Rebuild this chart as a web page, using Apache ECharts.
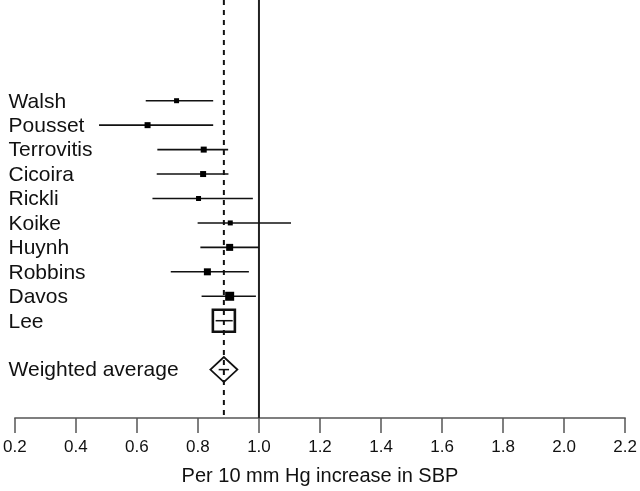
<!DOCTYPE html>
<html><head><meta charset="utf-8">
<script src="https://cdn.jsdelivr.net/npm/echarts@6/dist/echarts.min.js"></script>
<style>html,body{margin:0;padding:0;background:#fff}#c{width:640px;height:491px}</style>
</head><body><div id="c"></div>
<script>
// ---- data ----
const studies  = ['Walsh','Pousset','Terrovitis','Cicoira','Rickli','Koike','Huynh','Robbins','Davos','Lee'];
const estimate = [0.730, 0.635, 0.819, 0.817, 0.802, 0.906, 0.904, 0.831, 0.904, 0.885];
const lower    = [0.629, 0.476, 0.667, 0.665, 0.651, 0.799, 0.808, 0.711, 0.812, 0.858];
const upper    = [0.850, 0.850, 0.899, 0.900, 0.980, 1.105, 1.000, 0.967, 0.990, 0.914];
const pooledLabel = 'Weighted average';
const pooledEstimate = 0.885;
const pooledLower = 0.868;
const pooledUpper = 0.902;
const nullValue = 1.0;
const xTicks = [0.2, 0.4, 0.6, 0.8, 1.0, 1.2, 1.4, 1.6, 1.8, 2.0, 2.2];
const axisTitle = 'Per 10 mm Hg increase in SBP';

// ---- styles ----
const markerPx = [5, 6, 6, 6, 5, 5, 7, 7, 9, 22];
const openMarker = [false, false, false, false, false, false, false, false, false, true];
const FONT = '"Liberation Sans", Arial, Helvetica, sans-serif';

const rows = studies.map((s, i) => [estimate[i], lower[i], upper[i], i, 0]);
rows.push([pooledEstimate, pooledLower, pooledUpper, studies.length + 1, 1]);
const labels = studies.concat([pooledLabel]);
// reference lines: [x value, dashed?]
const refLines = [[nullValue, 0], [pooledEstimate, 1]];

const chart = echarts.init(document.getElementById('c'), null, {renderer: 'canvas'});
chart.setOption({
  animation: false,
  backgroundColor: '#fff',
  grid: {left: 13.3, right: 13.7, top: 0, bottom: 71},
  xAxis: {
    type: 'value', min: xTicks[0], max: xTicks[xTicks.length - 1], interval: 0.2,
    axisLine: {show: true, onZero: false, lineStyle: {color: '#555', width: 1.5}},
    axisTick: {show: true, length: 15, lineStyle: {color: '#555', width: 1.5}},
    axisLabel: {fontSize: 17, color: '#111', fontFamily: FONT, margin: 21,
      formatter: v => v.toFixed(1)},
    splitLine: {show: false},
    name: axisTitle, nameLocation: 'middle', nameGap: 48,
    nameTextStyle: {fontSize: 20, color: '#111', fontFamily: FONT}
  },
  yAxis: {type: 'value', min: -4.12, max: 12.98, inverse: true, show: false},
  series: [
    {
      type: 'custom', silent: true,
      data: refLines,
      renderItem: function (params, api) {
        const x = api.coord([api.value(0), 0])[0];
        const cs = params.coordSys;
        const dashed = api.value(1) === 1;
        return {type: 'line', shape: {x1: x, y1: cs.y, x2: x, y2: cs.y + cs.height},
          style: dashed ? {stroke: '#111', lineWidth: 2, lineDash: [5, 5]} : {stroke: '#222', lineWidth: 2}};
      }
    },
    {
      type: 'custom',
      data: rows,
      renderItem: function (params, api) {
        const est = api.value(0), lo = api.value(1), hi = api.value(2), row = api.value(3), isPooled = api.value(4);
        const idx = params.dataIndex;
        const pLo = api.coord([lo, row]), pHi = api.coord([hi, row]), p = api.coord([est, row]);
        const children = [];
        if (isPooled) {
          const hw = 13.5, hh = 12.5;
          children.push({type: 'polygon', shape: {points: [[p[0] - hw, p[1]], [p[0], p[1] - hh], [p[0] + hw, p[1]], [p[0], p[1] + hh]]},
            style: {fill: 'none', stroke: '#111', lineWidth: 1.8}});
          children.push({type: 'line', shape: {x1: pLo[0], y1: p[1], x2: pHi[0], y2: p[1]}, style: {stroke: '#111', lineWidth: 1.5}});
        } else if (openMarker[idx]) {
          const s = markerPx[idx];
          children.push({type: 'rect', shape: {x: p[0] - s / 2, y: p[1] - s / 2, width: s, height: s},
            style: {fill: 'none', stroke: '#111', lineWidth: 2.6}});
          children.push({type: 'line', shape: {x1: pLo[0], y1: p[1], x2: pHi[0], y2: p[1]}, style: {stroke: '#111', lineWidth: 1.5}});
        } else {
          const s = markerPx[idx];
          children.push({type: 'line', shape: {x1: pLo[0], y1: p[1], x2: pHi[0], y2: p[1]}, style: {stroke: '#111', lineWidth: 1.6}});
          children.push({type: 'rect', shape: {x: p[0] - s / 2, y: p[1] - s / 2, width: s, height: s},
            style: {fill: '#000'}});
        }
        children.push({type: 'text', style: {text: labels[idx], x: params.coordSys.x - 6.3, y: p[1] + 1,
          textAlign: 'left', textVerticalAlign: 'middle', font: '21px ' + FONT, fill: '#111'}});
        return {type: 'group', children: children};
      }
    }
  ]
});
</script>
</body></html>
